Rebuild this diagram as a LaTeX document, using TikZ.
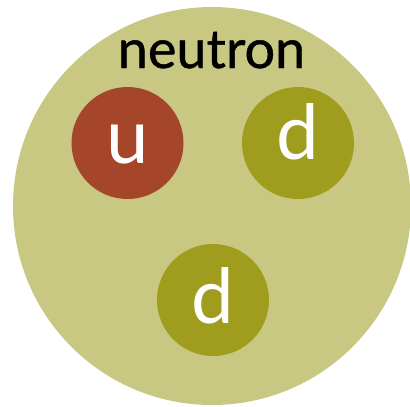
\documentclass[tikz,border=0pt]{standalone}
\usepackage{fontspec}
\setmainfont{Lato}
\newfontfamily\titlefont[FakeBold=0.8]{Lato}
\definecolor{nucleon}{HTML}{C8C882}
\definecolor{upq}{HTML}{A5452A}
\definecolor{downq}{HTML}{A09D1E}
\begin{document}
\begin{tikzpicture}[x=1pt,y=-1pt,
  quark/.style={circle,minimum size=112pt,inner sep=0pt},
  qlabel/.style={anchor=base,text=white,font=\fontsize{76}{80}\selectfont},
]
\useasboundingbox (0,0) rectangle (410,407);
\clip (0,0) rectangle (410,407);
\fill[nucleon] (212,206) circle[radius=199];
\node[anchor=base,font=\titlefont\fontsize{54}{56}\selectfont] (title) at (211.5,68) {neutron};
\node[quark,fill=upq] (u) at (127.5,143) {};
\node[qlabel] (ul) at (127.5,163) {u};
\node[quark,fill=downq] (d1) at (298,143) {};
\node[qlabel] (d1l) at (298,159) {d};
\node[quark,fill=downq] (d2) at (213,300) {};
\node[qlabel] (d2l) at (213,323) {d};
\end{tikzpicture}
\end{document}
